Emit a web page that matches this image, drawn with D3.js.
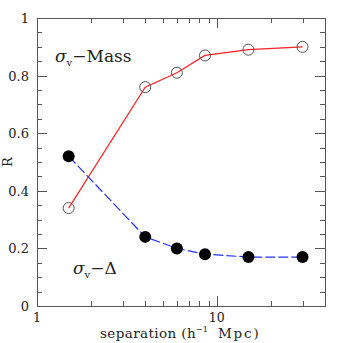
<!DOCTYPE html>
<html>
<head>
<meta charset="utf-8">
<script src="https://cdn.jsdelivr.net/npm/d3@7"></script>
<style>
  body { margin: 0; background: #fff; }
  text { font-family: "DejaVu Serif", "Liberation Serif", serif; fill: #222; }
</style>
</head>
<body>
<svg width="343" height="343"></svg>
<script>
// separations (h^-1 Mpc)
const separations = [1.5, 4, 6, 8.6, 15, 30];
// R values for the two correlations
const massValues = [0.34, 0.76, 0.81, 0.87, 0.89, 0.90];
const deltaValues = [0.52, 0.24, 0.20, 0.18, 0.17, 0.17];
const xMajorTicks = [1, 10];
const xMinorTicks = [2, 3, 4, 5, 6, 7, 8, 9, 20, 30];
const yMajorTicks = [0, 0.2, 0.4, 0.6, 0.8, 1];

const dims = { left: 37, right: 325, top: 18, bottom: 306 };
const svg = d3.select("svg");

const xScale = d3.scaleLog().domain([1, 40]).range([dims.left, dims.right]);
const yScale = d3.scaleLinear().domain([0, 1]).range([dims.bottom, dims.top]);

const tickColor = "#555";

// inward ticks on all four sides
const drawTicks = () => {
  const g = svg.append("g").attr("stroke", tickColor).attr("stroke-width", 1);
  const xTicks = xMajorTicks.map((v) => [v, 10]).concat(xMinorTicks.map((v) => [v, 5]));
  xTicks.forEach(([v, len]) => {
    const x = Math.round(xScale(v)) + 0.5;
    g.append("line").attr("x1", x).attr("x2", x).attr("y1", dims.bottom).attr("y2", dims.bottom - len);
    g.append("line").attr("x1", x).attr("x2", x).attr("y1", dims.top).attr("y2", dims.top + len);
  });
  const yMinor = d3.range(0, 1.0001, 0.05);
  yMinor.forEach((v) => {
    const major = yMajorTicks.some((m) => Math.abs(m - v) < 1e-6);
    const len = major ? 10 : 5;
    const y = Math.round(yScale(v)) + 0.5;
    g.append("line").attr("x1", dims.left).attr("x2", dims.left + len).attr("y1", y).attr("y2", y);
    g.append("line").attr("x1", dims.right).attr("x2", dims.right - len).attr("y1", y).attr("y2", y);
  });
  svg.append("rect")
    .attr("x", dims.left + 0.5).attr("y", dims.top + 0.5)
    .attr("width", dims.right - dims.left).attr("height", dims.bottom - dims.top)
    .attr("fill", "none").attr("stroke", tickColor);
};

const drawLabels = () => {
  svg.selectAll(".xl").data(xMajorTicks).enter().append("text")
    .attr("x", (d) => xScale(d)).attr("y", dims.bottom + 16)
    .attr("text-anchor", "middle").attr("font-size", 12.5).text((d) => d);
  svg.selectAll(".yl").data(yMajorTicks).enter().append("text")
    .attr("x", dims.left - 8).attr("y", (d) => yScale(d) + 5)
    .attr("text-anchor", "end").attr("font-size", 13).text((d) => d);

  // x title built from separate pieces so the superscript sits cleanly
  const titleY = 338;
  svg.append("text").attr("x", 100).attr("y", titleY).attr("font-size", 13.5)
    .attr("letter-spacing", 0.4).text("separation (h");
  svg.append("text").attr("x", 196).attr("y", titleY - 6).attr("font-size", 8)
    .text("−1");
  svg.append("text").attr("x", 218).attr("y", titleY).attr("font-size", 13.5)
    .attr("letter-spacing", 1.8).text("Mpc)");

  svg.append("text").attr("transform", "translate(12,162) rotate(-90)")
    .attr("text-anchor", "middle").attr("font-size", 13).text("R");

  const lab = (x, y, name) => {
    const t = svg.append("text").attr("x", x).attr("y", y).attr("font-size", 17);
    t.append("tspan").attr("font-style", "italic").text("σ");
    t.append("tspan").attr("dy", 4).attr("font-size", 10).text("v");
    t.append("tspan").attr("dy", -4).text("−" + name);
  };
  lab(55, 62, "Mass");
  lab(73, 274, "Δ");
};

const drawSeries = () => {
  const massData = separations.map((s, i) => [s, massValues[i]]);
  const deltaData = separations.map((s, i) => [s, deltaValues[i]]);
  const line = d3.line().x((d) => xScale(d[0])).y((d) => yScale(d[1]));

  svg.append("path").datum(massData).attr("d", line)
    .attr("fill", "none").attr("stroke", "#ff2020").attr("stroke-width", 1.2);
  svg.append("path").datum(deltaData).attr("d", line)
    .attr("fill", "none").attr("stroke", "#2233ff").attr("stroke-width", 1.2)
    .attr("stroke-dasharray", "10,3");

  svg.selectAll(".mass").data(massData).enter().append("circle")
    .attr("cx", (d) => xScale(d[0])).attr("cy", (d) => yScale(d[1])).attr("r", 5.5)
    .attr("fill", "none").attr("stroke", "#555").attr("stroke-width", 1);
  svg.selectAll(".delta").data(deltaData).enter().append("circle")
    .attr("cx", (d) => xScale(d[0])).attr("cy", (d) => yScale(d[1])).attr("r", 6)
    .attr("fill", "#000");
};

drawTicks();
drawSeries();
drawLabels();
</script>
</body>
</html>
